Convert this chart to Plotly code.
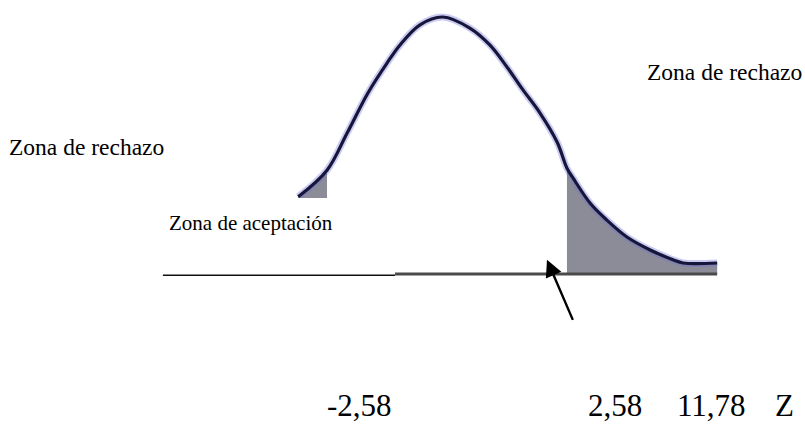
import plotly.graph_objects as go

# curve: z position and density height
z_vals = [-3.20, -2.58, -2.15, -1.70, -1.29, -1.01, -0.58, -0.09, 0.49, 0.92,
          1.29, 1.63, 2.00, 2.37, 2.58, 2.71, 3.08, 3.44, 3.87, 4.37, 4.86, 5.08, 5.81]
dens = [0.119, 0.160, 0.217, 0.279, 0.325, 0.353, 0.384, 0.396, 0.379, 0.353,
        0.319, 0.284, 0.248, 0.203, 0.163, 0.148, 0.109, 0.083, 0.057, 0.037, 0.022, 0.017, 0.017]

z_crit = 2.58
zone_labels = ["Zona de rechazo", "Zona de rechazo", "Zona de aceptación"]
tick_labels = ["-2,58", "2,58", "11,78", "Z"]

W, H = 805, 424
FONT = "'Liberation Serif', 'Times New Roman', serif"
CURVE = "#16163a"
SHADE = "#8c8c98"

left_z = [z for z in z_vals if z <= -z_crit]
left_d = [d for z, d in zip(z_vals, dens) if z <= -z_crit]
right_z = [z for z in z_vals if z >= z_crit]
right_d = [d for z, d in zip(z_vals, dens) if z >= z_crit]

fig = go.Figure()

# shaded tails
for tz, td in [(left_z, left_d), (right_z, right_d)]:
    fig.add_trace(go.Scatter(x=tz, y=td, mode="lines", fill="tozeroy",
                             fillcolor=SHADE, line=dict(width=0), hoverinfo="skip"))

# halo + curve
fig.add_trace(go.Scatter(x=z_vals, y=dens, mode="lines", line_shape="spline",
                         line=dict(color="rgba(110,110,220,0.35)", width=7), hoverinfo="skip"))
fig.add_trace(go.Scatter(x=z_vals, y=dens, mode="lines", line_shape="spline",
                         line=dict(color=CURVE, width=3.2), hoverinfo="skip"))

# white label box covering the left part of the curve
fig.add_shape(type="rect", x0=-6.45, x1=-1.118, y0=-0.002, y1=0.117,
              fillcolor="white", line=dict(width=0), layer="above")
# baseline
fig.add_shape(type="line", x0=-6.11, x1=-1.118, y0=-0.002, y1=-0.002,
              line=dict(color="#111111", width=1.5), layer="above")
fig.add_shape(type="line", x0=-1.118, x1=5.81, y0=0, y1=0,
              line=dict(color="#4a4a4a", width=3), layer="above")

# arrow
fig.add_annotation(x=2.15, y=0.022, ax=2.72, ay=-0.073, axref="x", ayref="y",
                   xref="x", yref="y", text="", showarrow=True,
                   arrowhead=2, arrowsize=1.4, arrowwidth=2.4, arrowcolor="black")

def px_label(text, left, cy, size):
    fig.add_annotation(x=left / W, y=1 - cy / H, xref="paper", yref="paper",
                       xanchor="left", yanchor="middle", text=text, showarrow=False,
                       font=dict(family=FONT, size=size, color="black"))

px_label(zone_labels[0], 7, 147, 23.5)
px_label(zone_labels[1], 645, 72, 23.5)
px_label(zone_labels[2], 167, 223, 21)

for text, left in zip(tick_labels, [325, 586, 675, 773]):
    px_label(text, left, 405, 31)

fig.update_layout(
    width=W, height=H,
    margin=dict(l=0, r=0, t=0, b=0),
    paper_bgcolor="white", plot_bgcolor="white",
    font=dict(family=FONT),
    showlegend=False,
    xaxis=dict(range=[-9.613, 7.699], visible=False, fixedrange=True),
    yaxis=dict(range=[-0.2311, 0.4222], visible=False, fixedrange=True),
)

# page has a default body margin; drop it so the figure sits at the corner
fig.write_html("out.html", config={"displayModeBar": False},
               post_script="document.body.style.margin='0';")
